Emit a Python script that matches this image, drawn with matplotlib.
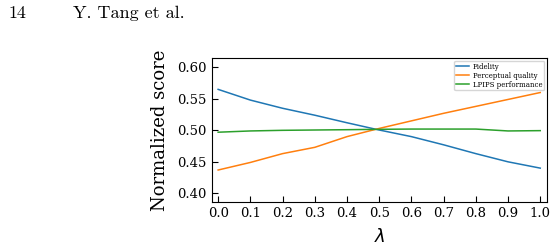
import numpy as np
import matplotlib.pyplot as plt

lam = [0.0, 0.1, 0.2, 0.3, 0.4, 0.5, 0.6, 0.7, 0.8, 0.9, 1.0]
fidelity = [0.565, 0.548, 0.535, 0.524, 0.512, 0.5005, 0.490, 0.477, 0.463, 0.450, 0.440]
perceptual = [0.437, 0.449, 0.463, 0.473, 0.490, 0.503, 0.515, 0.527, 0.538, 0.549, 0.560]
lpips = [0.497, 0.499, 0.500, 0.5005, 0.501, 0.5016, 0.502, 0.502, 0.502, 0.499, 0.4995]

plt.rcParams['font.family'] = 'DejaVu Serif'

fig = plt.figure(figsize=(5.56, 2.5), dpi=100)
ax = fig.add_axes([211.7 / 556, 1 - 201.7 / 250, (547 - 211.7) / 556, (201.7 - 58) / 250])

ax.plot(lam, fidelity, color='#1f77b4', lw=1.1, label='Fidelity')
ax.plot(lam, perceptual, color='#ff7f0e', lw=1.1, label='Perceptual quality')
ax.plot(lam, lpips, color='#2ca02c', lw=1.1, label='LPIPS performance')

ax.set_xlim(-0.02, 1.021)
ax.set_ylim(0.3867, 0.6148)
ax.set_xticks(np.arange(0, 1.01, 0.1))
ax.set_yticks([0.40, 0.45, 0.50, 0.55, 0.60])
ax.tick_params(direction='in', labelsize=9.5, length=4, width=0.8)
ax.set_ylabel('Normalized score', fontsize=13, labelpad=6)
ax.set_xlabel(r'$\lambda$', fontsize=13, labelpad=6)
ax.legend(loc='upper right', fontsize=5, frameon=True, handlelength=1.9,
          borderpad=0.25, labelspacing=0.15, handletextpad=0.5, borderaxespad=0.4)

fig.text(8 / 556, 1 - 13 / 250, '14', family='cmr10', fontsize=13, va='center')
fig.text(73 / 556, 1 - 13 / 250, 'Y. Tang et al.', family='cmr10', fontsize=13, va='center')

plt.savefig('out.png', dpi=100)
